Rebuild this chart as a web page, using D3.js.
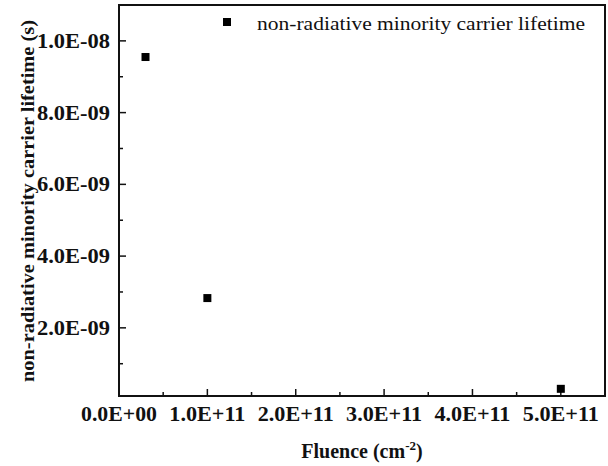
<!DOCTYPE html>
<html>
<head>
<meta charset="utf-8">
<script src="https://cdn.jsdelivr.net/npm/d3@7"></script>
<style>
  body { margin: 0; background: #fff; }
  svg { display: block; }
  text { font-family: "Liberation Serif", "Times New Roman", serif; fill: #111; }
</style>
</head>
<body>
<div id="chart"></div>
<script>
const fluence = [3e10, 1e11, 5e11];
const lifetime = [9.55e-9, 2.83e-9, 3.0e-10];
const xTicks = [0, 1e11, 2e11, 3e11, 4e11, 5e11];
const xTickLabels = ["0.0E+00", "1.0E+11", "2.0E+11", "3.0E+11", "4.0E+11", "5.0E+11"];
const yTicks = [2e-9, 4e-9, 6e-9, 8e-9, 1e-8];
const yTickLabels = ["2.0E-09", "4.0E-09", "6.0E-09", "8.0E-09", "1.0E-08"];
const seriesName = "non-radiative minority carrier lifetime";

const width = 608, height = 466;
const margin = { top: 5, right: 3, bottom: 70, left: 119 };

const svg = d3.select("#chart")
              .append("svg")
              .attr("width", width)
              .attr("height", height);

const x = d3.scaleLinear()
            .domain([0, 5.5e11])
            .range([margin.left, width - margin.right]);
const y = d3.scaleLinear()
            .domain([1e-10, 1.1e-8])
            .range([height - margin.bottom, margin.top]);

// minor ticks halfway between majors
const xMinor = d3.range(0.5e11, 5.5e11, 1e11);
const yMinor = d3.range(1e-9, 1.1e-8, 2e-9);

const bottomY = y.range()[0];
const leftX = x.range()[0];

// x axis ticks (inward)
svg.append("g")
   .selectAll("line")
   .data(xTicks.slice(1))
   .join("line")
   .attr("x1", (d) => x(d)).attr("x2", (d) => x(d))
   .attr("y1", bottomY).attr("y2", bottomY - 7)
   .style("stroke", "#111").style("stroke-width", 1.5);
svg.append("g")
   .selectAll("line")
   .data(xMinor)
   .join("line")
   .attr("x1", (d) => x(d)).attr("x2", (d) => x(d))
   .attr("y1", bottomY).attr("y2", bottomY - 4)
   .style("stroke", "#111").style("stroke-width", 1.5);

svg.append("g")
   .selectAll("text")
   .data(xTicks)
   .join("text")
   .attr("x", (d) => x(d))
   .attr("y", bottomY + 25)
   .attr("text-anchor", "middle")
   .attr("textLength", 76)
   .attr("lengthAdjust", "spacingAndGlyphs")
   .style("font-size", "20px")
   .style("font-weight", "bold")
   .text((d, i) => xTickLabels[i]);

// y axis ticks (inward)
svg.append("g")
   .selectAll("line")
   .data(yTicks)
   .join("line")
   .attr("x1", leftX).attr("x2", leftX + 7)
   .attr("y1", (d) => y(d)).attr("y2", (d) => y(d))
   .style("stroke", "#111").style("stroke-width", 1.5);
svg.append("g")
   .selectAll("line")
   .data(yMinor)
   .join("line")
   .attr("x1", leftX).attr("x2", leftX + 4)
   .attr("y1", (d) => y(d)).attr("y2", (d) => y(d))
   .style("stroke", "#111").style("stroke-width", 1.5);

svg.append("g")
   .selectAll("text")
   .data(yTicks)
   .join("text")
   .attr("x", leftX - 9)
   .attr("y", (d) => y(d))
   .attr("dy", "0.35em")
   .attr("text-anchor", "end")
   .attr("textLength", 73)
   .attr("lengthAdjust", "spacingAndGlyphs")
   .style("font-size", "20px")
   .style("font-weight", "bold")
   .text((d, i) => yTickLabels[i]);

// frame
svg.append("rect")
   .attr("x", leftX)
   .attr("y", margin.top)
   .attr("width", x.range()[1] - leftX)
   .attr("height", bottomY - margin.top)
   .style("fill", "none")
   .style("stroke", "#111")
   .style("stroke-width", 2);

// points
const sq = 8;
svg.append("g")
   .selectAll("rect")
   .data(fluence.map((f, i) => [f, lifetime[i]]))
   .join("rect")
   .attr("x", (d) => x(d[0]) - sq / 2)
   .attr("y", (d) => y(d[1]) - sq / 2)
   .attr("width", sq)
   .attr("height", sq)
   .style("fill", "#000");

// legend
svg.append("rect")
   .attr("x", 223).attr("y", 18)
   .attr("width", sq).attr("height", sq)
   .style("fill", "#000");
svg.append("text")
   .attr("x", 257).attr("y", 30)
   .attr("textLength", 328)
   .attr("lengthAdjust", "spacingAndGlyphs")
   .style("font-size", "19.5px")
   .text(seriesName);

// axis titles
const xt = svg.append("text")
   .attr("x", (leftX + x.range()[1]) / 2)
   .attr("y", 458)
   .attr("text-anchor", "middle")
   .style("font-size", "20px")
   .style("font-weight", "bold");
xt.append("tspan").text("Fluence (cm");
xt.append("tspan").attr("dy", -8).style("font-size", "13px").text("-2");
xt.append("tspan").attr("dy", 8).text(")");

svg.append("text")
   .attr("transform", "translate(34," + 201 + ") rotate(-90)")
   .attr("text-anchor", "middle")
   .attr("textLength", 362)
   .attr("lengthAdjust", "spacingAndGlyphs")
   .style("font-size", "19.5px")
   .style("font-weight", "bold")
   .text("non-radiative minority carrier lifetime (s)");
</script>
</body>
</html>
